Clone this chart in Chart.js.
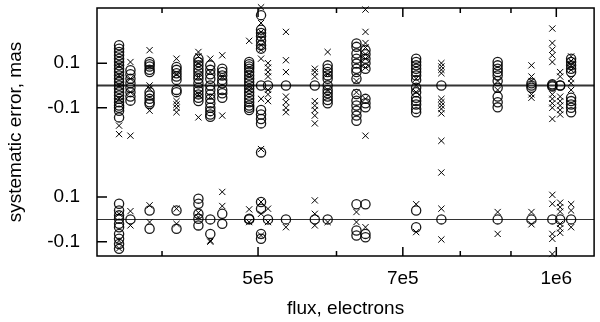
<!DOCTYPE html>
<html>
<head>
<meta charset="utf-8">
<script src="https://cdn.jsdelivr.net/npm/chart.js@4.4.1/dist/chart.umd.min.js"></script>
<style>
  html, body { margin: 0; padding: 0; background: #fff; }
</style>
</head>
<body>
<canvas id="errChart" width="600" height="322"></canvas>
<script>
// flux of each column of measurements (electrons)
const fluxColumns = [3.62e5, 3.717e5, 3.886e5, 4.137e5, 4.353e5, 4.475e5, 4.601e5, 4.898e5,
    5.035e5, 5.117e5, 5.335e5, 5.705e5, 5.878e5, 6.285e5, 6.418e5, 7.22e5, 7.656e5,
    8.726e5, 9.439e5, 9.908e5, 1.009e6, 1.035e6];

// upper band, circles (mas)
const topCircles = [
    [0.18, 0.165, 0.15, 0.135, 0.12, 0.105, 0.09, 0.075, 0.06, 0.045, 0.03, 0.015, 0, -0.015, -0.03, -0.045, -0.06, -0.075, -0.09, -0.1, -0.113, -0.143],
    [0.068, 0.05, 0.03, 0.01, -0.01, -0.03, -0.05, -0.068],
    [0.105, 0.095, 0.085, 0.07, 0.06, -0.03, -0.045, -0.06, -0.075, -0.083],
    [0.083, 0.07, 0.055, 0.04, 0.025, -0.02, -0.03],
    [0.12, 0.105, 0.09, 0.075, 0.06, 0.045, 0.03, 0.01, -0.01, -0.025, -0.04, -0.055, -0.07],
    [0.09, 0.07, 0.05, 0.03, 0, -0.02, -0.04, -0.06, -0.08, -0.1, -0.115, -0.13, -0.14],
    [0.075, 0.06, 0.045, 0.025, 0.01, -0.02, -0.035, -0.055],
    [0.105, 0.095, 0.085, 0.075, 0.06, 0.045, 0.03, 0.015, 0, -0.015, -0.03, -0.045, -0.06, -0.075, -0.09, -0.1, -0.11],
    [0.315, 0.25, 0.235, 0.22, 0.2, 0.18, 0.165, 0, -0.11, -0.13, -0.15, -0.17, -0.3],
    [0],
    [0],
    [0],
    [0.09, 0.075, 0.06, 0.045, 0.03, 0, -0.02, -0.035, -0.05, -0.065, -0.08],
    [0.188, 0.173, 0.143, 0.12, 0.098, 0.075, 0.06, 0.03, -0.038, -0.068, -0.09, -0.113, -0.135, -0.158],
    [0.158, 0.14, 0.12, 0.1, 0.075, -0.06, -0.08, -0.098],
    [0.12, 0.105, 0.09, 0.075, 0.06, 0.045, 0.025, -0.01, -0.03, -0.055, -0.07, -0.085, -0.105, -0.12],
    [0],
    [0.105, 0.09, 0.075, 0.06, 0.045, 0.02, -0.01, -0.05, -0.075, -0.098],
    [0, 0.01, -0.01],
    [0.005, 0, -0.005],
    [0, 0],
    [0.12, 0.105, 0.09, 0.075, 0.06, -0.055, -0.07, -0.085, -0.1, -0.12]
];

// upper band, crosses (mas)
const topCrosses = [
    [0.09, 0.045, 0, -0.06, -0.18, -0.218],
    [0.105, 0.03, -0.03, -0.225],
    [0.158, 0, -0.015, -0.113],
    [0.12, 0.05, -0.07, -0.085, -0.1, -0.12],
    [0.15, 0.13, 0.1, 0.04, -0.04, -0.143],
    [0.12, 0.06, -0.05],
    [0.135, 0.04, -0.135],
    [0.2, 0.05, -0.02],
    [0.35, 0.28, 0.24, 0.21, 0.18, 0.16, 0.12, -0.06, -0.285],
    [0.1, 0.08, 0.06, 0.04, -0.02, -0.04, -0.07],
    [0.24, 0.113, 0.06, -0.05, -0.075, -0.1, -0.12],
    [0.075, 0.06, 0.04, -0.07, -0.09, -0.11, -0.135, -0.17],
    [0.15, 0.05, -0.02],
    [0.02, -0.03],
    [0.34, 0.24, 0.19, 0.17, 0.14, 0.12, 0.08, -0.06, -0.225],
    [0.03, 0, -0.03],
    [0.1, 0.085, 0.07, 0.055, -0.06, -0.075, -0.09, -0.105, -0.125, -0.248, -0.39],
    [0.02, -0.02],
    [0.09, 0.04, 0.02, -0.04, -0.055],
    [0.255, 0.19, 0.16, 0.135, 0.105, -0.04, -0.06, -0.08, -0.1, -0.15],
    [0.06, 0.04, -0.05, -0.07, -0.09, -0.11, -0.13],
    [0.13, 0.11, 0.09, 0.07, 0.03, 0.01, -0.02]
];

// lower band, circles (mas)
const botCircles = [
    [0.07, 0.04, 0.018, 0.003, -0.02, -0.035, -0.065, -0.087, -0.11, -0.132],
    [0],
    [0.04, -0.042],
    [0.04, -0.042],
    [0.093, 0.07, 0.025, 0.003, -0.027],
    [0, -0.065],
    [0.025, -0.02],
    [0, 0.003],
    [0.078, 0.048, -0.065, -0.087],
    [0],
    [0],
    [0],
    [0],
    [0.068, -0.05, -0.072],
    [0.068, -0.065, -0.08],
    [0.04, -0.035],
    [0],
    [0],
    [0],
    [0],
    [0],
    [0]
];

// lower band, crosses (mas)
const botCrosses = [
    [0.025, -0.095, -0.13],
    [0.037, -0.027],
    [0.063, -0.012],
    [0.048, -0.02],
    [0.03, 0.01],
    [-0.1, -0.095],
    [0.123, 0.06],
    [0.045, -0.012],
    [0.078, 0.025, -0.072],
    [0.048, -0.012],
    [-0.035],
    [0.085, 0.025, -0.027],
    [-0.012],
    [0.033, -0.012],
    [-0.035],
    [0.068, -0.057],
    [0.048, -0.09],
    [0.033, -0.065],
    [0.033, -0.022],
    [0.11, 0.07, -0.065, -0.087, -0.155],
    [0.075, 0.055, 0.035, -0.02, -0.04, -0.06],
    [0.068, 0.04, -0.035]
];

const bandOffsets = [0.6, 0];            // upper band is shifted up by this much
const yTickValues = [-0.1, 0.1, 0.5, 0.7];
const yTickLabels = ['-0.1', '0.1', '-0.1', '0.1'];
const xTickValues = [5e5, 7e5, 1e6];
const xTickLabels = ['5e5', '7e5', '1e6'];
const xMinorTicks = [4e5, 6e5, 8e5, 9e5];

function toPoints(cols, offset) {
    const pts = [];
    cols.forEach((vals, i) => {
        vals.forEach(v => pts.push({x: fluxColumns[i], y: v + offset}));
    });
    return pts;
}

const FONT = 'Liberation Sans, Arial, Helvetica, sans-serif';

// gnuplot-ish frame, inward tics and the two zero lines
const framePlugin = {
    id: 'frame',
    beforeDatasetsDraw(chart) {
        const {ctx, chartArea: a, scales: {y}} = chart;
        ctx.save();
        ctx.strokeStyle = '#333';
        bandOffsets.forEach((off, k) => {
            const py = Math.round(y.getPixelForValue(off)) + 0.5;
            ctx.lineWidth = k === 0 ? 1.8 : 1.2;
            ctx.beginPath();
            ctx.moveTo(a.left, py);
            ctx.lineTo(a.right, py);
            ctx.stroke();
        });
        ctx.restore();
    },
    afterDraw(chart) {
        const {ctx, chartArea: a, scales: {x, y}} = chart;
        ctx.save();
        ctx.strokeStyle = '#000';
        ctx.lineWidth = 1.5;
        ctx.strokeRect(a.left, a.top, a.right - a.left, a.bottom - a.top);
        ctx.beginPath();
        yTickValues.forEach(v => {
            const py = y.getPixelForValue(v);
            ctx.moveTo(a.left, py);
            ctx.lineTo(a.left + 10, py);
        });
        xTickValues.forEach(v => {
            const px = x.getPixelForValue(v);
            ctx.moveTo(px, a.bottom);
            ctx.lineTo(px, a.bottom - 9);
            ctx.moveTo(px, a.top);
            ctx.lineTo(px, a.top + 9);
        });
        xMinorTicks.forEach(v => {
            const px = x.getPixelForValue(v);
            ctx.moveTo(px, a.bottom);
            ctx.lineTo(px, a.bottom - 5);
            ctx.moveTo(px, a.top);
            ctx.lineTo(px, a.top + 5);
        });
        ctx.stroke();
        ctx.restore();
    }
};

const circleStyle = {pointStyle: 'circle', pointRadius: 4.6, borderColor: 'rgba(0,0,0,0.9)', backgroundColor: 'rgba(0,0,0,0)', pointBorderWidth: 1.3};
const crossStyle = {pointStyle: 'crossRot', pointRadius: 4.4, borderColor: '#000', backgroundColor: '#000', pointBorderWidth: 1};

new Chart(document.getElementById('errChart'), {
    type: 'scatter',
    data: {
        datasets: [
            {label: 'upper circles', data: toPoints(topCircles, bandOffsets[0]), ...circleStyle},
            {label: 'upper crosses', data: toPoints(topCrosses, bandOffsets[0]), ...crossStyle},
            {label: 'lower circles', data: toPoints(botCircles, bandOffsets[1]), ...circleStyle},
            {label: 'lower crosses', data: toPoints(botCrosses, bandOffsets[1]), ...crossStyle}
        ]
    },
    options: {
        responsive: false,
        devicePixelRatio: 1,
        animation: false,
        clip: false,
        layout: {padding: {top: 8, right: 3, left: 0, bottom: 0}},
        plugins: {legend: {display: false}, tooltip: {enabled: false}},
        scales: {
            x: {
                type: 'logarithmic',
                min: 3.439e5,
                max: 1.0918e6,
                afterFit: s => { s.height = 66; s.paddingLeft = 0; s.paddingRight = 0; },
                afterBuildTicks: s => { s.ticks = xTickValues.map(v => ({value: v})); },
                grid: {display: false, drawTicks: false},
                border: {display: false},
                ticks: {
                    autoSkip: false,
                    maxRotation: 0,
                    padding: 11,
                    color: '#000',
                    font: {family: FONT, size: 19},
                    callback: (v, i) => xTickLabels[i]
                },
                title: {display: true, text: 'flux, electrons', color: '#000',
                        font: {family: FONT, size: 19}, padding: {top: 0, bottom: 2}}
            },
            y: {
                type: 'linear',
                min: -0.164,
                max: 0.947,
                afterFit: s => { s.width = 97; s.paddingTop = 0; s.paddingBottom = 0; },
                afterBuildTicks: s => { s.ticks = yTickValues.map(v => ({value: v})); },
                grid: {display: false, drawTicks: false},
                border: {display: false},
                ticks: {
                    autoSkip: false,
                    padding: 17,
                    color: '#000',
                    font: {family: FONT, size: 19},
                    callback: (v, i) => yTickLabels[i]
                },
                title: {display: true, text: 'systematic error, mas', color: '#000',
                        font: {family: FONT, size: 19}, padding: {top: 4, bottom: 0}}
            }
        }
    },
    plugins: [framePlugin]
});
</script>
</body>
</html>
